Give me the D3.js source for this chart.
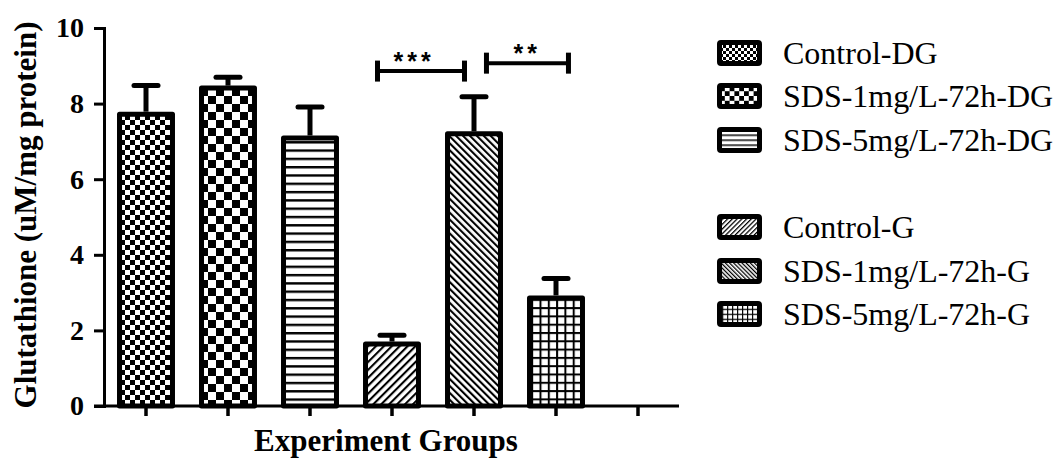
<!DOCTYPE html>
<html><head><meta charset="utf-8">
<script src="https://cdn.jsdelivr.net/npm/d3@7"></script>
<style>
html,body{margin:0;padding:0;background:#fff;}
svg{display:block;}
text.serif{font-family:"Liberation Serif","Times New Roman",Times,serif;}
text.sans{font-family:"Liberation Sans",Arial,sans-serif;}
</style></head>
<body>
<script>
// ---- data ----
const categories = ["Control-DG","SDS-1mg/L-72h-DG","SDS-5mg/L-72h-DG","Control-G","SDS-1mg/L-72h-G","SDS-5mg/L-72h-G"];
const means  = [7.72, 8.41, 7.09, 1.64, 7.20, 2.86];
const errors = [0.76, 0.29, 0.82, 0.23, 0.98, 0.51];
const patternKinds = ["checkSmall","checkLarge","hlines","diagUp","diagDown","grid"];
const yTicks = [0, 2, 4, 6, 8, 10];
const xSlots = categories.concat(["(empty)"]);
const legendGroups = [[0,1,2],[3,4,5]];
const yTitle = "Glutathione (uM/mg protein)";
const xTitle = "Experiment Groups";
// significance brackets: from/to in category-index units, y in data units
const brackets = [
  {from: 2.823, to: 3.884, y: 8.86, label: "***", labelAt: 3.24},
  {from: 4.152, to: 5.152, y: 9.07, label: "**",  labelAt: 4.62}
];

// ---- setup ----
const W = 1061, H = 461;
const svg = d3.select("body").append("svg").attr("width", W).attr("height", H);
const defs = svg.append("defs");

const x = d3.scaleBand().domain(xSlots).range([105, 679]).paddingInner(0.354).paddingOuter(0.177);
const y = d3.scaleLinear().domain([0, 10]).range([406, 28]);
const xi = d3.scaleLinear().domain([0, 1]).range([x(xSlots[0]) + x.bandwidth()/2, x(xSlots[1]) + x.bandwidth()/2]);

// ---- patterns ----
function makePattern(id, kind, s) {
  let p;
  if (kind === "checkSmall" || kind === "checkLarge") {
    const c = (kind === "checkSmall" ? 5 : 8) * s;
    p = defs.append("pattern").attr("id", id).attr("patternUnits", "userSpaceOnUse")
      .attr("width", 2*c).attr("height", 2*c);
    p.append("rect").attr("width", 2*c).attr("height", 2*c).attr("fill", "#fff");
    p.append("rect").attr("width", c).attr("height", c).attr("fill", "#000");
    p.append("rect").attr("x", c).attr("y", c).attr("width", c).attr("height", c).attr("fill", "#000");
  } else if (kind === "hlines") {
    const c = 8.3 * s;
    p = defs.append("pattern").attr("id", id).attr("patternUnits", "userSpaceOnUse")
      .attr("width", c).attr("height", c);
    p.append("rect").attr("width", c).attr("height", c).attr("fill", "#fff");
    p.append("rect").attr("width", c).attr("height", 2.4*s).attr("fill", "#000");
  } else if (kind === "diagUp" || kind === "diagDown") {
    const c = (kind === "diagUp" ? 5.6 : 4.9) * s;
    p = defs.append("pattern").attr("id", id).attr("patternUnits", "userSpaceOnUse")
      .attr("width", c).attr("height", c)
      .attr("patternTransform", `rotate(${kind === "diagUp" ? 45 : -45})`);
    p.append("rect").attr("width", c).attr("height", c).attr("fill", "#fff");
    p.append("rect").attr("width", 2.1*s).attr("height", c).attr("fill", "#000");
  } else if (kind === "grid") {
    const c = 8.3 * s;
    p = defs.append("pattern").attr("id", id).attr("patternUnits", "userSpaceOnUse")
      .attr("width", c).attr("height", c);
    p.append("rect").attr("width", c).attr("height", c).attr("fill", "#fff");
    p.append("rect").attr("width", c).attr("height", 2*s).attr("fill", "#000");
    p.append("rect").attr("width", 2*s).attr("height", c).attr("fill", "#000");
  }
}
patternKinds.forEach((k, i) => { makePattern("pat" + i, k, 1); makePattern("lpat" + i, k, 0.6); });

// ---- bars ----
const data = categories.map((c, i) => ({c, m: means[i], e: errors[i], i}));
const bars = svg.append("g");
bars.selectAll("rect").data(data).join("rect")
  .attr("x", d => x(d.c))
  .attr("y", d => y(d.m))
  .attr("width", x.bandwidth())
  .attr("height", d => y(0) - y(d.m))
  .attr("fill", d => `url(#pat${d.i})`)
  .attr("stroke", "#000").attr("stroke-width", 5).attr("stroke-linejoin", "round");

// error bars (upper only)
const eb = svg.append("g").attr("stroke", "#000");
eb.selectAll("line.stem").data(data).join("line").attr("class", "stem")
  .attr("x1", d => x(d.c) + x.bandwidth()/2).attr("x2", d => x(d.c) + x.bandwidth()/2)
  .attr("y1", d => y(d.m) - 2.5).attr("y2", d => y(d.m + d.e))
  .attr("stroke-width", 5);
eb.selectAll("line.cap").data(data).join("line").attr("class", "cap")
  .attr("x1", d => x(d.c) + x.bandwidth()/2 - 12).attr("x2", d => x(d.c) + x.bandwidth()/2 + 12)
  .attr("y1", d => y(d.m + d.e)).attr("y2", d => y(d.m + d.e))
  .attr("stroke-width", 5).attr("stroke-linecap", "round");

// ---- axes ----
const yAxis = svg.append("g").attr("transform", "translate(104,0)")
  .call(d3.axisLeft(y).tickValues(yTicks).tickFormat(d3.format("d")).tickSize(10).tickSizeOuter(0).tickPadding(10));
yAxis.attr("font-family", null).attr("font-size", null);
yAxis.select(".domain").attr("stroke-width", 3).attr("stroke-linecap", "square");
yAxis.selectAll(".tick line").attr("stroke-width", 3);
yAxis.selectAll(".tick text").attr("class", "serif").attr("font-weight", "bold").attr("font-size", 28).attr("fill", "#000");

const xAxis = svg.append("g").attr("transform", "translate(0,406)")
  .call(d3.axisBottom(x).tickFormat("").tickSize(10).tickSizeOuter(0));
xAxis.select(".domain").attr("d", "M94,0H679").attr("stroke-width", 3);
xAxis.selectAll(".tick line").attr("stroke-width", 3.5);

// ---- titles ----
svg.append("text").attr("class", "serif").attr("transform", "translate(36,215) rotate(-90)")
  .attr("text-anchor", "middle").attr("font-weight", "bold")
  .attr("font-size", 31).text(yTitle);
svg.append("text").attr("class", "serif").attr("x", 386).attr("y", 451)
  .attr("text-anchor", "middle").attr("font-weight", "bold")
  .attr("font-size", 31).text(xTitle);

// ---- significance brackets ----
const br = svg.append("g").attr("stroke", "#000");
brackets.forEach(b => {
  const yy = y(b.y);
  br.append("line").attr("x1", xi(b.from)).attr("x2", xi(b.to)).attr("y1", yy).attr("y2", yy).attr("stroke-width", 4);
  br.append("line").attr("x1", xi(b.from)).attr("x2", xi(b.from)).attr("y1", yy - 10.5).attr("y2", yy + 10.5).attr("stroke-width", 5);
  br.append("line").attr("x1", xi(b.to)).attr("x2", xi(b.to)).attr("y1", yy - 10.5).attr("y2", yy + 10.5).attr("stroke-width", 5);
  svg.append("text").attr("class", "sans").attr("x", xi(b.labelAt) + 2.5).attr("y", yy - 1)
    .attr("text-anchor", "middle")
    .attr("font-weight", "bold").attr("font-size", 25).attr("letter-spacing", 4).text(b.label);
});

// ---- legend ----
const rowCenters = [[53, 96, 140], [227, 271, 314]];
const lg = svg.append("g");
legendGroups.forEach((grp, gi) => {
  grp.forEach((idx, ri) => {
    const cy = rowCenters[gi][ri];
    lg.append("rect").attr("x", 719.5).attr("y", cy - 10.5).attr("width", 40).attr("height", 21)
      .attr("rx", 1.5).attr("fill", `url(#lpat${idx})`)
      .attr("stroke", "#000").attr("stroke-width", 5).attr("stroke-linejoin", "round");
    lg.append("text").attr("class", "serif").attr("x", 783).attr("y", cy).attr("dy", "0.34em")
      .attr("font-size", 32).attr("fill", "#000").text(categories[idx]);
  });
});
</script>
</body></html>
